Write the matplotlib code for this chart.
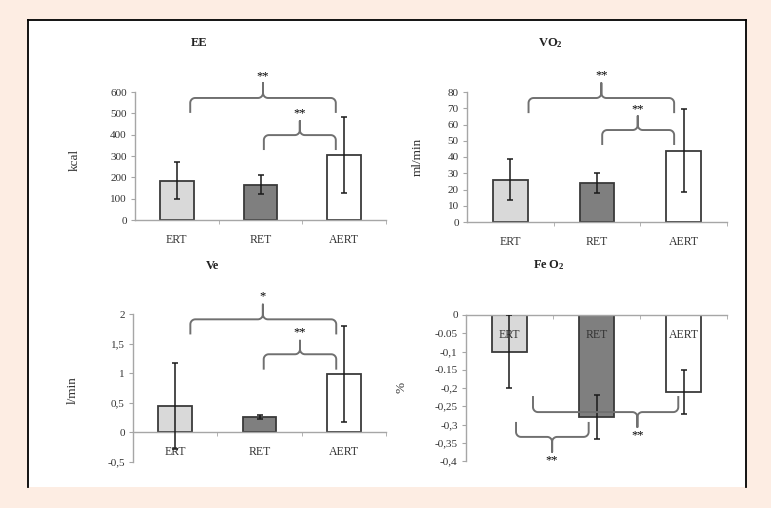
import numpy as np
import matplotlib
matplotlib.use("Agg")
import matplotlib.pyplot as plt
from matplotlib.lines import Line2D

plt.rcParams['font.family'] = ['Liberation Serif', 'DejaVu Serif']
plt.rcParams['mathtext.fontset'] = 'custom'
plt.rcParams['mathtext.rm'] = 'Liberation Serif'
plt.rcParams['mathtext.bf'] = 'Liberation Serif:bold'

W, H = 771, 508

categories = ["ERT", "RET", "AERT"]
bar_colors = ["#d9d9d9", "#7f7f7f", "#ffffff"]

ee_mean = [185, 165, 305]
ee_err = [85, 45, 180]
vo2_mean = [26, 24, 44]
vo2_err = [12.5, 6, 25.5]
ve_mean = [0.45, 0.26, 0.98]
ve_err = [0.73, 0.04, 0.81]
feo2_mean = [-0.10, -0.28, -0.21]
feo2_err = [0.10, 0.06, 0.06]

ee_ticks = [0, 100, 200, 300, 400, 500, 600]
vo2_ticks = [0, 10, 20, 30, 40, 50, 60, 70, 80]
ve_ticks = [-0.5, 0, 0.5, 1, 1.5, 2]
ve_ticklabels = ["-0,5", "0", "0,5", "1", "1,5", "2"]
feo2_ticks = [0, -0.05, -0.1, -0.15, -0.2, -0.25, -0.3, -0.35, -0.4]
feo2_ticklabels = ["0", "-0.05", "-0,1", "-0.15", "-0,2", "-0,25", "-0,3", "-0,35", "-0,4"]

# significance braces: (x0, x1, xpeak, y_line, y_tip, y_peak, y_star, label)
ee_braces = [(0.16, 1.90, 1.03, 572, 502, 642, 675, "**"),
             (1.04, 1.90, 1.47, 398, 328, 464, 502, "**")]
vo2_braces = [(0.21, 1.89, 1.05, 76.3, 67, 85.5, 90.5, "**"),
              (1.06, 1.89, 1.47, 56.6, 47.4, 65.2, 69.5, "**")]
ve_braces = [(0.18, 1.91, 1.04, 1.91, 1.655, 2.16, 2.30, "*"),
             (1.05, 1.91, 1.48, 1.32, 1.06, 1.55, 1.69, "**")]
feo2_braces = [(0.27, 1.94, 1.47, -0.266, -0.222, -0.307, -0.331, "**"),
               (0.075, 0.91, 0.49, -0.334, -0.293, -0.375, -0.397, "**")]

fig = plt.figure(figsize=(W / 100, H / 100), dpi=100)
fig.patch.set_facecolor("#fdede3")

# white panel with black frame (top, left, right)
panel = plt.Rectangle((28 / W, 1 - 487 / H), (746 - 28) / W, (487 - 20) / H,
                      transform=fig.transFigure, facecolor="white", edgecolor="none", zorder=0)
fig.add_artist(panel)
for xs, ys in [([28, 28], [487, 20]), ([28, 746], [20, 20]), ([746, 746], [20, 487])]:
    fig.add_artist(Line2D([x / W for x in xs], [1 - y / H for y in ys],
                          transform=fig.transFigure, color="black", lw=1.3))


def make_axes(left, right, top, bottom):
    return fig.add_axes([left / W, 1 - bottom / H, (right - left) / W, (bottom - top) / H])


def brace(ax, x0, x1, xp, yl, yt, yp, r=5):
    to_disp = ax.transData.transform
    X0, YL = to_disp((x0, yl))
    X1, YT = to_disp((x1, yt))
    XP, YP = to_disp((xp, yp))
    s = 1 if YP > YL else -1
    pts = [(X0, YT)]

    def arc(cx, cy, t0, t1):
        t = np.linspace(t0, t1, 12)
        return list(zip(cx + r * np.cos(t), cy + s * r * np.sin(t)))

    pts += arc(X0 + r, YL - s * r, np.pi, np.pi / 2)
    pts += arc(XP - r, YL + s * r, -np.pi / 2, 0)
    pts.append((XP, YP))
    pts += arc(XP + r, YL + s * r, np.pi, 1.5 * np.pi)
    pts += arc(X1 - r, YL - s * r, np.pi / 2, 0)
    pts.append((X1, YT))
    data = ax.transData.inverted().transform(np.array(pts))
    ax.plot(data[:, 0], data[:, 1], color="#707070", lw=1.4, clip_on=False,
            solid_capstyle="butt", zorder=4)


def panel_plot(ax, means, errs, ylim, ticks, ticklabels, braces):
    x = np.arange(len(categories))
    ax.set_axisbelow(False)
    ax.bar(x, means, width=0.4, color=bar_colors, edgecolor="#3a3a3a", linewidth=1.3, zorder=2)
    ax.errorbar(x, means, yerr=errs, fmt="none", ecolor="#1a1a1a", elinewidth=1.1,
                capsize=2, capthick=1.1, zorder=3)
    ax.set_xlim(-0.5, 2.5)
    ax.set_ylim(*ylim)
    ax.set_yticks(ticks)
    ax.set_yticklabels(ticklabels)
    ax.set_xticks(x)
    ax.set_xticklabels(categories)
    ax.set_xticks([0.5, 1.5, 2.5], minor=True)
    for side in ["top", "right"]:
        ax.spines[side].set_visible(False)
    for side in ["left", "bottom"]:
        ax.spines[side].set_color("#a6a6a6")
        ax.spines[side].set_linewidth(1.0)
    ax.spines["bottom"].set_position(("data", 0))
    ax.tick_params(axis="y", length=3, color="#a6a6a6", labelsize=8, labelcolor="#333333", pad=3)
    ax.tick_params(axis="x", which="major", length=0, labelsize=8.5, labelcolor="#333333", pad=10)
    ax.tick_params(axis="x", which="minor", length=3, color="#a6a6a6")
    ax.patch.set_alpha(0)
    for x0, x1, xp, yl, yt, yp, ys, lab in braces:
        brace(ax, x0, x1, xp, yl, yt, yp)
        ax.text(xp, ys, lab, ha="center", va="center", fontsize=9, color="black", clip_on=False)


ax1 = make_axes(135, 386, 92, 220)
panel_plot(ax1, ee_mean, ee_err, (0, 600), ee_ticks, [str(t) for t in ee_ticks], ee_braces)
ax2 = make_axes(467, 727, 92, 222)
panel_plot(ax2, vo2_mean, vo2_err, (0, 80), vo2_ticks, [str(t) for t in vo2_ticks], vo2_braces)
ax3 = make_axes(133, 386, 314, 462)
panel_plot(ax3, ve_mean, ve_err, (-0.5, 2), ve_ticks, ve_ticklabels, ve_braces)
ax4 = make_axes(466, 727, 315, 461)
panel_plot(ax4, feo2_mean, feo2_err, (-0.4, 0), feo2_ticks, feo2_ticklabels, feo2_braces)

# titles and axis labels
titles = [("EE", 199, 43), (r"$\mathbf{VO_2}$", 550, 43), ("Ve", 213, 266), (r"$\mathbf{Fe\,O_2}$", 549, 265)]
for txt, px, py in titles:
    fig.text(px / W, 1 - py / H, txt, ha="center", va="center", fontsize=9, fontweight="bold", color="#222222")
ylabels = [("kcal", 75, 160), ("ml/min", 418, 157), ("l/min", 73, 390), ("%", 401, 387)]
for txt, px, py in ylabels:
    fig.text(px / W, 1 - py / H, txt, ha="center", va="center", fontsize=9.5, rotation=90, color="#333333")

fig.savefig("out.png", dpi=100, facecolor=fig.get_facecolor())
